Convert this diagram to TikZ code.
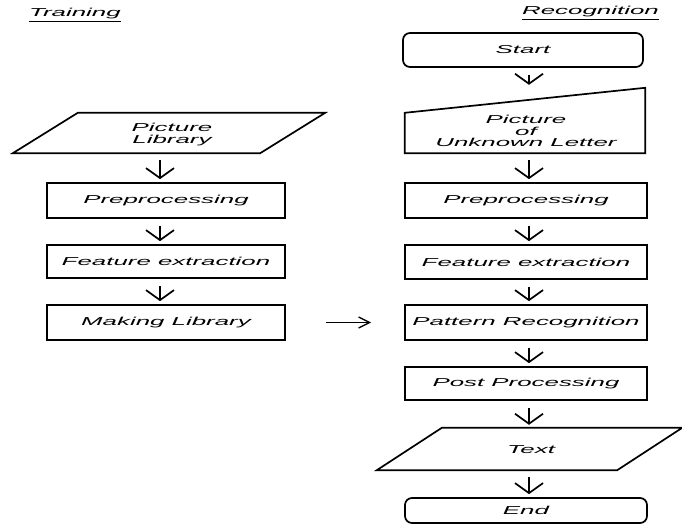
\documentclass[tikz,border=0pt]{standalone}
\usepackage{fontspec}
\newfontfamily\diag{Liberation Sans}[FakeStretch=2.25]
\usetikzlibrary{arrows.meta}
\begin{document}
\begin{tikzpicture}[x=1pt,y=-1pt,
  txt/.style={font={\diag\itshape\fontsize{11.5pt}{12pt}\selectfont},align=center,inner sep=0pt},
  box/.style={txt,draw,line width=1.7pt,minimum width=240pt,minimum height=35pt},
  rbox/.style={box,rounded corners=7pt},
  ghost/.style={txt,minimum height=40pt},
  shp/.style={line width=1.7pt,line join=miter},
  flow/.style={line width=1.7pt,-{Straight Barb[length=10pt,width=28pt,line width=1.7pt]},shorten <=7pt,shorten >=3pt},
  harrow/.style={line width=1.4pt,-{Straight Barb[length=11pt,width=11pt,line width=1.4pt]},shorten <=40pt,shorten >=33pt}
]
\useasboundingbox (0,0) rectangle (682,532);
\fill[white] (0,0) rectangle (682,532);

% titles
\node[txt,anchor=base west] (ttrain) at (29,17) {\underline{Training}};
\node[txt,anchor=base east] (trec) at (659,15) {\underline{Recognition}};

% column x positions for arrows
\coordinate (xl) at (160,0);
\coordinate (xr) at (529,0);

% ---------- Training ----------
\node[ghost,minimum width=312pt] (pl) at (169,133) {};
\draw[shp] ([xshift=65pt]pl.north west) -- (pl.north east) -- ([xshift=-65pt]pl.south east) -- (pl.south west) -- cycle;
\node[txt] (plt) at (172,135) {Picture\\Library};

\node[box,minimum width=238pt] (lpre) at (166,200.5) {Preprocessing};
\node[box,minimum width=238pt,minimum height=33pt] (lfe) at (166,261.5) {Feature extraction};
\node[box,minimum width=238pt] (ml) at (166,322.5) {Making Library};

\draw[flow] (pl.south -| xl) -- (lpre.north -| xl);
\draw[flow] (lpre.south -| xl) -- (lfe.north -| xl);
\draw[flow] (lfe.south -| xl) -- (ml.north -| xl);

% ---------- Recognition ----------
\node[rbox,minimum height=34pt] (start) at (523,50) {Start};

\node[ghost,minimum width=240pt,minimum height=65pt] (pul) at (525,120.5) {};
\draw[shp] (pul.south west) -- (pul.south east) -- (pul.north east) -- ([yshift=-25pt]pul.north west) -- cycle;
\node[txt,font={\diag\itshape\fontsize{11.5pt}{11.5pt}\selectfont}] (pult) at (526,131) {Picture\\of\\Unknown Letter};

\node[box,minimum width=242pt] (rpre) at (526,200.5) {Preprocessing};
\node[box,minimum width=242pt,minimum height=34pt] (rfe) at (526,262) {Feature extraction};
\node[box,minimum width=242pt] (pr) at (526,322.5) {Pattern Recognition};
\node[box,minimum width=242pt,minimum height=33pt] (pp) at (526,383.5) {Post Processing};

\node[ghost,minimum width=305pt,minimum height=42pt] (tx) at (529.5,449) {};
\draw[shp] ([xshift=65pt]tx.north west) -- (tx.north east) -- ([xshift=-65pt]tx.south east) -- (tx.south west) -- cycle;
\node[txt] (txt) at (531,450) {Text};

\node[rbox,minimum width=242pt,minimum height=25pt] (end) at (526,510.5) {End};

\draw[flow] (start.south -| xr) -- (pul.north -| xr);
\draw[flow] (pul.south -| xr) -- (rpre.north -| xr);
\draw[flow] (rpre.south -| xr) -- (rfe.north -| xr);
\draw[flow] (rfe.south -| xr) -- (pr.north -| xr);
\draw[flow] (pr.south -| xr) -- (pp.north -| xr);
\draw[flow] (pp.south -| xr) -- (tx.north -| xr);
\draw[flow] (tx.south -| xr) -- (end.north -| xr);

\draw[harrow] (ml.east) -- (pr.west);
\end{tikzpicture}
\end{document}
